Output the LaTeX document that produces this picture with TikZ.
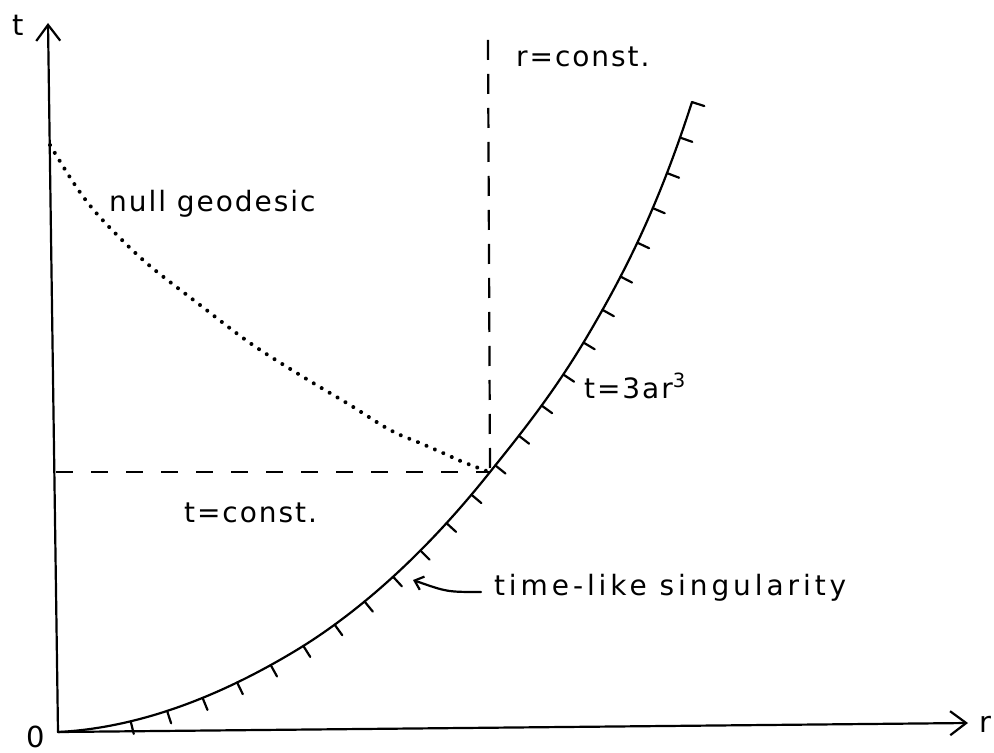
\documentclass[tikz,border=0pt]{standalone}
\usepackage{fontspec}
\setmainfont{DejaVu Sans}[LetterSpace=7]
\usetikzlibrary{arrows.meta,decorations.markings}
\begin{document}
\begin{tikzpicture}[x=0.5pt,y=-0.5pt,
  line width=1.1pt, line cap=round,
  lbl/.style={font=\fontsize{14}{17}\selectfont, inner sep=0pt},
  widelbl/.style={font=\fontsize{14}{17}\selectfont\addfontfeature{LetterSpace=14}, inner sep=0pt},
  axlbl/.style={font=\fontsize{14.5}{17}\selectfont, inner sep=0pt},
  axis/.style={-{Straight Barb[length=8pt,width=12pt]}},
  longdash/.style={dash pattern=on 10pt off 7pt, line cap=butt},
  shortdash/.style={dash pattern=on 8.5pt off 9pt, line cap=butt},
  dotline/.style={line width=2pt, line cap=round, dash pattern=on 0.01pt off 4.6pt},
  tickmark/.style={line width=1.1pt},
  ticked/.style={postaction={decorate}, decoration={markings,
     mark=between positions 0.078 and 1 step 0.0401 with {\draw[tickmark] (0pt,0pt) -- (0pt,-6.5pt);},
     mark=at position 0.9999 with {\draw[tickmark] (0pt,0pt) -- (0pt,-6.5pt);}}},
  pointer/.style={-{Straight Barb[length=4pt,width=7pt]}}
]
\useasboundingbox (0,0) rectangle (994,753);
% axes
\coordinate (O) at (58,732);
\coordinate (ttip) at (48,23);
\coordinate (rtip) at (968,723);
\draw[axis] (O) -- (ttip);
\draw[axis] (O) -- (rtip);
\node[axlbl] (tl) at (18,25) {t};
\node[axlbl] (rl) at (985,724) {r};
\node[axlbl] (zero) at (36,737) {0};
% singularity curve
\coordinate (P1) at (300,648);
\coordinate (P) at (490,472);
\coordinate (P3) at (588,335);
\coordinate (P4) at (692,102);
\draw[ticked] (O) .. controls (138,728) and (220,697) .. (P1)
   .. controls (363,609) and (428,550) .. (P)
   .. controls (523,431) and (555,391) .. (P3)
   .. controls (623,275.5) and (657,210.5) .. (P4);
% dashed lines
\coordinate (Ptop) at (488,40);
\coordinate (Pleft) at (56,472);
\draw[longdash] (Ptop) -- (P);
\draw[shortdash] (Pleft) -- (P);
% null geodesic
\draw[dotline] plot[smooth, tension=0.6] coordinates {(50,145) (73,182) (92,208) (117,235) (150,266) (200,305) (250,343) (300,375) (350,405) (390,430) (420,443) (443,453) (463,462) (489,472)};
% labels
\node[lbl, anchor=base west] (rc) at (515,67) {r=const.};
\node[lbl, anchor=base west] (ng) at (108,212) {null geodesic};
\node[lbl, anchor=base west] (eq) at (583,398) {t=3ar\textsuperscript{3}};
\node[lbl, anchor=base west] (tc) at (183,522) {t=const.};
\node[widelbl, anchor=base west] (sing) at (493,595) {time-like singularity};
\coordinate (astart) at (481,592);
\coordinate (stip) at (413,580);
\draw[pointer] (astart) .. controls (447,592) .. (stip);
\end{tikzpicture}
\end{document}
